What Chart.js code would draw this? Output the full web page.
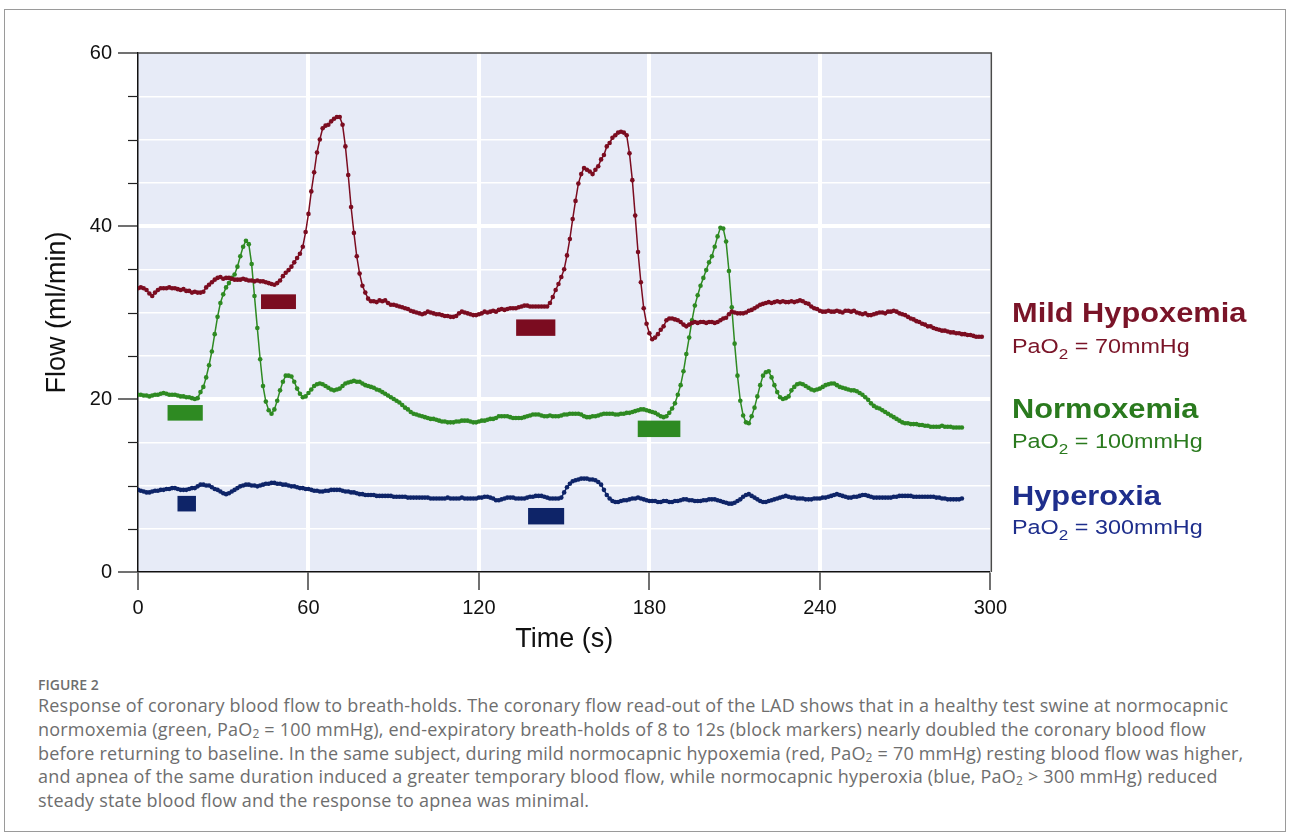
<!DOCTYPE html>
<html>
<head>
<meta charset="utf-8">
<script src="https://cdn.jsdelivr.net/npm/chart.js@4.4.1/dist/chart.umd.min.js"></script>
<style>
  body { margin: 0; background: #fff; width: 1290px; height: 837px; position: relative; overflow: hidden; font-family: "Liberation Sans", Arial, sans-serif; }
  #frame { position: absolute; left: 4px; top: 9px; width: 1282px; height: 823px; border: 1px solid #9a9a9a; box-sizing: border-box; }
  #chartBox { position: absolute; left: 0; top: 0; width: 1013px; height: 670px; }
  .lg { position: absolute; left: 1012px; white-space: nowrap; transform-origin: left top; transform: scaleX(1.14); line-height: 1; }
  .lg.head { font-weight: bold; font-size: 27px; }
  .lg.sub { font-size: 20.5px; }
  .lg sub { font-size: 15px; vertical-align: -6px; line-height: 0; }
  .red { color: #7a1428; }
  .green { color: #2a7a1e; }
  .blue { color: #1e2e8c; }
  #figLabel { position: absolute; left: 38px; top: 678px; font-family: "Open Sans", sans-serif; font-size: 14px; font-weight: 600; color: #6e6e6e; line-height: 1; }
  #caption { position: absolute; left: 38px; top: 694px; font-family: "Open Sans", sans-serif; font-size: 18px; letter-spacing: 0.2px; color: #6e6e6e; line-height: 23.8px; white-space: nowrap; }
  #caption sub { font-size: 12px; vertical-align: -2px; line-height: 0; }
</style>
</head>
<body>
<div id="frame"></div>
<div id="chartBox"><canvas id="flowChart"></canvas></div>

<div class="lg head red" style="top:300px">Mild Hypoxemia</div>
<div class="lg sub red" style="top:336px">PaO<sub>2</sub> = 70mmHg</div>
<div class="lg head green" style="top:396px">Normoxemia</div>
<div class="lg sub green" style="top:431px">PaO<sub>2</sub> = 100mmHg</div>
<div class="lg head blue" style="top:483px">Hyperoxia</div>
<div class="lg sub blue" style="top:517px">PaO<sub>2</sub> = 300mmHg</div>

<div id="figLabel">FIGURE 2</div>
<div id="caption">Response of coronary blood flow to breath-holds. The coronary flow read-out of the LAD shows that in a healthy test swine at normocapnic<br>normoxemia (green, PaO<sub>2</sub> = 100 mmHg), end-expiratory breath-holds of 8 to 12s (block markers) nearly doubled the coronary blood flow<br>before returning to baseline. In the same subject, during mild normocapnic hypoxemia (red, PaO<sub>2</sub> = 70 mmHg) resting blood flow was higher,<br>and apnea of the same duration induced a greater temporary blood flow, while normocapnic hyperoxia (blue, PaO<sub>2</sub> &gt; 300 mmHg) reduced<br>steady state blood flow and the response to apnea was minimal.</div>

<script>
// sampled once per second, t = 0, 1, 2 ...
const sampleStep = 1;

const hypoxemiaFlow = [
  32.8, 32.9, 32.8, 32.6, 32.2, 31.9, 32.3, 32.6, 32.8, 32.8, 32.8, 32.9, 32.8, 32.8, 32.7, 32.6, 32.7, 32.5, 32.5, 32.3,
  32.4, 32.3, 32.3, 32.4, 32.9, 33.2, 33.5, 33.8, 34.0, 34.1, 33.9, 34.0, 34.0, 33.9, 33.8, 33.8, 33.8, 33.9, 33.8, 33.7,
  33.7, 33.6, 33.7, 33.6, 33.6, 33.5, 33.4, 33.3, 33.2, 33.4, 33.7, 34.2, 34.6, 34.9, 35.3, 35.8, 36.3, 36.8, 37.6, 39.3,
  41.4, 44.0, 46.2, 48.5, 50.0, 51.3, 51.6, 51.7, 52.1, 52.4, 52.6, 52.6, 51.7, 49.2, 45.9, 42.2, 39.2, 36.5, 34.5, 33.1,
  32.3, 31.6, 31.3, 31.3, 31.2, 31.4, 31.3, 31.4, 31.1, 30.9, 30.9, 30.8, 30.7, 30.6, 30.5, 30.4, 30.2, 30.1, 30.0, 29.9,
  29.8, 29.9, 30.1, 30.0, 29.9, 29.8, 29.8, 29.7, 29.6, 29.6, 29.5, 29.5, 29.6, 29.9, 30.1, 30.0, 29.9, 29.8, 29.7, 29.7,
  29.8, 29.9, 30.1, 30.0, 30.1, 30.2, 30.1, 30.3, 30.4, 30.3, 30.4, 30.5, 30.5, 30.5, 30.6, 30.7, 30.8, 30.8, 30.7, 30.7,
  30.7, 30.7, 30.7, 30.7, 30.7, 31.1, 31.8, 32.6, 33.3, 34.1, 35.0, 36.6, 38.5, 40.8, 42.9, 44.9, 46.0, 46.7, 46.5, 46.3,
  46.0, 46.5, 46.9, 47.7, 48.2, 49.2, 49.6, 50.2, 50.5, 50.8, 50.9, 50.8, 50.5, 48.4, 45.3, 41.2, 37.0, 33.5, 30.5, 28.7,
  27.6, 26.9, 27.1, 27.5, 28.0, 28.4, 29.1, 29.3, 29.3, 29.2, 29.1, 28.9, 28.6, 28.4, 28.6, 28.8, 28.9, 28.8, 28.9, 28.9,
  28.8, 28.9, 28.9, 28.8, 28.9, 29.1, 29.3, 29.4, 29.8, 30.1, 30.0, 29.9, 29.9, 29.9, 30.0, 30.2, 30.3, 30.5, 30.7, 30.9,
  31.0, 31.1, 31.2, 31.1, 31.2, 31.3, 31.2, 31.3, 31.2, 31.2, 31.3, 31.2, 31.3, 31.4, 31.3, 31.1, 31.0, 30.7, 30.5, 30.4,
  30.2, 30.1, 30.1, 30.2, 30.1, 30.1, 30.2, 30.1, 30.0, 30.2, 30.2, 30.1, 30.2, 30.0, 29.9, 29.8, 29.9, 29.7, 29.7, 29.8,
  29.9, 30.0, 30.0, 29.9, 30.1, 30.1, 30.2, 30.1, 29.9, 29.8, 29.7, 29.5, 29.3, 29.2, 29.0, 28.9, 28.7, 28.6, 28.4, 28.4,
  28.2, 28.1, 28.0, 27.9, 27.9, 27.8, 27.7, 27.7, 27.6, 27.6, 27.5, 27.5, 27.4, 27.4, 27.3, 27.2, 27.2, 27.2
];

const normoxemiaFlow = [
  20.5, 20.5, 20.4, 20.4, 20.3, 20.4, 20.5, 20.5, 20.6, 20.7, 20.6, 20.5, 20.5, 20.5, 20.4, 20.3, 20.3, 20.2, 20.2, 20.1,
  20.0, 20.1, 20.8, 21.4, 22.5, 23.9, 25.5, 27.5, 29.5, 31.1, 32.1, 32.9, 33.4, 34.0, 34.4, 35.3, 36.5, 37.6, 38.3, 37.9,
  35.6, 31.9, 28.2, 24.6, 21.5, 19.7, 18.7, 18.3, 18.8, 19.8, 21.0, 22.0, 22.7, 22.7, 22.6, 22.0, 21.2, 20.6, 20.2, 20.3,
  20.7, 21.1, 21.5, 21.7, 21.8, 21.7, 21.5, 21.3, 21.1, 21.0, 21.1, 21.2, 21.5, 21.8, 21.9, 22.0, 22.1, 22.0, 22.0, 21.8,
  21.6, 21.5, 21.4, 21.3, 21.1, 21.0, 20.8, 20.6, 20.4, 20.2, 20.0, 19.8, 19.6, 19.3, 19.0, 18.8, 18.5, 18.3, 18.2, 18.1,
  18.0, 17.9, 17.8, 17.7, 17.7, 17.6, 17.5, 17.4, 17.4, 17.3, 17.3, 17.3, 17.4, 17.4, 17.5, 17.5, 17.5, 17.4, 17.3, 17.3,
  17.4, 17.5, 17.5, 17.6, 17.7, 17.7, 17.8, 18.0, 18.0, 18.0, 18.0, 17.9, 17.8, 17.8, 17.8, 17.8, 17.9, 18.0, 18.1, 18.2,
  18.2, 18.2, 18.1, 18.0, 18.0, 18.1, 18.0, 18.0, 18.0, 18.1, 18.2, 18.2, 18.3, 18.3, 18.3, 18.3, 18.2, 18.0, 17.9, 17.9,
  18.0, 18.0, 18.1, 18.2, 18.3, 18.3, 18.3, 18.3, 18.2, 18.2, 18.3, 18.3, 18.4, 18.4, 18.5, 18.6, 18.7, 18.8, 18.8, 18.7,
  18.6, 18.5, 18.4, 18.2, 18.0, 17.9, 18.0, 18.4, 18.9, 19.5, 20.5, 21.6, 23.2, 25.2, 27.1, 29.1, 30.8, 32.0, 33.1, 34.0,
  34.9, 35.8, 36.5, 37.6, 38.8, 39.8, 39.7, 38.2, 34.8, 30.6, 26.4, 22.7, 19.8, 18.1, 17.3, 17.2, 18.0, 19.0, 20.3, 21.6,
  22.7, 23.1, 23.2, 22.5, 21.6, 20.8, 20.2, 20.0, 20.1, 20.3, 21.0, 21.4, 21.7, 21.8, 21.7, 21.5, 21.3, 21.1, 21.0, 21.1,
  21.2, 21.4, 21.6, 21.7, 21.8, 21.8, 21.6, 21.4, 21.3, 21.2, 21.1, 21.0, 21.0, 20.9, 20.7, 20.5, 20.2, 19.9, 19.5, 19.2,
  19.0, 18.9, 18.7, 18.5, 18.3, 18.1, 17.9, 17.7, 17.5, 17.3, 17.2, 17.2, 17.1, 17.1, 17.1, 17.0, 17.0, 16.9, 16.9, 16.8,
  16.8, 16.8, 16.8, 16.9, 16.8, 16.8, 16.8, 16.7, 16.7, 16.7, 16.7
];

const hyperoxiaFlow = [
  9.5, 9.4, 9.3, 9.2, 9.2, 9.3, 9.4, 9.4, 9.5, 9.5, 9.6, 9.6, 9.7, 9.7, 9.6, 9.5, 9.5, 9.5, 9.6, 9.7,
  9.7, 9.9, 10.1, 10.1, 10.0, 10.0, 9.8, 9.6, 9.5, 9.3, 9.1, 9.0, 9.1, 9.3, 9.5, 9.7, 9.9, 10.0, 10.1, 10.1,
  10.0, 10.0, 9.9, 10.0, 10.1, 10.2, 10.2, 10.3, 10.3, 10.2, 10.2, 10.1, 10.1, 10.0, 9.9, 9.9, 9.8, 9.7, 9.7, 9.6,
  9.6, 9.5, 9.4, 9.4, 9.3, 9.3, 9.4, 9.4, 9.5, 9.5, 9.5, 9.5, 9.4, 9.3, 9.3, 9.2, 9.2, 9.1, 9.0, 9.0,
  8.9, 8.9, 8.9, 8.9, 8.8, 8.8, 8.8, 8.8, 8.8, 8.8, 8.7, 8.7, 8.7, 8.7, 8.7, 8.6, 8.6, 8.6, 8.6, 8.6,
  8.6, 8.6, 8.6, 8.5, 8.5, 8.5, 8.5, 8.5, 8.5, 8.6, 8.5, 8.5, 8.5, 8.5, 8.6, 8.5, 8.5, 8.5, 8.5, 8.5,
  8.6, 8.6, 8.7, 8.7, 8.6, 8.5, 8.3, 8.3, 8.4, 8.5, 8.6, 8.6, 8.6, 8.5, 8.5, 8.5, 8.5, 8.6, 8.7, 8.7,
  8.8, 8.8, 8.8, 8.7, 8.6, 8.5, 8.5, 8.5, 8.5, 8.6, 9.2, 9.8, 10.2, 10.5, 10.6, 10.7, 10.8, 10.8, 10.8, 10.7,
  10.7, 10.6, 10.4, 10.1, 9.5, 8.9, 8.5, 8.2, 8.1, 8.1, 8.2, 8.3, 8.3, 8.4, 8.5, 8.5, 8.6, 8.5, 8.4, 8.3,
  8.2, 8.2, 8.2, 8.1, 8.1, 8.2, 8.2, 8.1, 8.1, 8.2, 8.2, 8.3, 8.4, 8.4, 8.3, 8.3, 8.2, 8.2, 8.2, 8.3,
  8.3, 8.4, 8.4, 8.4, 8.3, 8.2, 8.1, 8.0, 7.9, 7.9, 8.0, 8.2, 8.4, 8.7, 8.9, 9.0, 8.8, 8.6, 8.4, 8.2,
  8.1, 8.1, 8.2, 8.3, 8.4, 8.5, 8.6, 8.7, 8.8, 8.7, 8.6, 8.6, 8.5, 8.5, 8.5, 8.4, 8.4, 8.4, 8.5, 8.5,
  8.5, 8.6, 8.6, 8.7, 8.8, 8.9, 9.0, 8.9, 8.8, 8.7, 8.6, 8.6, 8.7, 8.7, 8.8, 8.9, 8.9, 8.8, 8.7, 8.6,
  8.6, 8.6, 8.6, 8.6, 8.6, 8.6, 8.7, 8.7, 8.8, 8.8, 8.8, 8.8, 8.8, 8.7, 8.7, 8.7, 8.7, 8.7, 8.7, 8.7,
  8.7, 8.6, 8.6, 8.5, 8.5, 8.4, 8.4, 8.4, 8.4, 8.4, 8.5
];

// breath-hold block markers: [t start, t end, flow top, flow bottom]
const hypoxemiaBlocks = [[43.3, 55.6, 32.1, 30.4], [133.1, 146.9, 29.2, 27.3]];
const normoxemiaBlocks = [[10.4, 22.8, 19.3, 17.5], [175.9, 190.9, 17.5, 15.6]];
const hyperoxiaBlocks = [[13.9, 20.4, 8.8, 7.0], [137.3, 150.0, 7.4, 5.5]];

const xTicks = [0, 60, 120, 180, 240, 300];
const yLabelTicks = [0, 20, 40, 60];

const RED = '#7b0c20';
const GREEN = '#2e8a22';
const BLUE = '#0e2468';

function toPoints(values) {
    return values.map(function (v, i) {
        return { x: i * sampleStep, y: v };
    });
}

function series(label, values, color) {
    return {
        label: label,
        data: toPoints(values),
        borderColor: color,
        backgroundColor: color,
        borderWidth: 1.5,
        pointRadius: 2.3,
        pointBorderWidth: 0,
        pointBackgroundColor: color,
        tension: 0
    };
}

// plot background, frame, minor ticks and breath-hold blocks
const plotDecor = {
    id: 'plotDecor',
    beforeDraw: function (chart) {
        const a = chart.chartArea;
        const ctx = chart.ctx;
        ctx.save();
        ctx.fillStyle = '#e7ebf7';
        ctx.fillRect(a.left, a.top, a.right - a.left, a.bottom - a.top);
        ctx.restore();
    },
    afterDraw: function (chart) {
        const a = chart.chartArea;
        const ctx = chart.ctx;
        const xs = chart.scales.x;
        const ys = chart.scales.y;
        ctx.save();
        // top and right frame
        ctx.strokeStyle = '#4a4a4a';
        ctx.lineWidth = 1.5;
        ctx.beginPath();
        ctx.moveTo(a.left, a.top);
        ctx.lineTo(a.right + 1, a.top);
        ctx.lineTo(a.right + 1, a.bottom);
        ctx.stroke();
        // short minor ticks on the y axis
        ctx.strokeStyle = '#222';
        ctx.lineWidth = 1.2;
        ys.ticks.forEach(function (t) {
            if (t.value % 20 === 0) return;
            const y = Math.round(ys.getPixelForValue(t.value)) + 0.5;
            ctx.beginPath();
            ctx.moveTo(a.left - 10, y);
            ctx.lineTo(a.left, y);
            ctx.stroke();
        });
        // block markers
        [[hypoxemiaBlocks, RED], [normoxemiaBlocks, GREEN], [hyperoxiaBlocks, BLUE]].forEach(function (pair) {
            ctx.fillStyle = pair[1];
            pair[0].forEach(function (b) {
                const x0 = xs.getPixelForValue(b[0]);
                const x1 = xs.getPixelForValue(b[1]);
                const y0 = ys.getPixelForValue(b[2]);
                const y1 = ys.getPixelForValue(b[3]);
                ctx.fillRect(x0, y0, x1 - x0, y1 - y0);
            });
        });
        ctx.restore();
    }
};

const ctx = document.getElementById('flowChart').getContext('2d');

new Chart(ctx, {
    type: 'line',
    data: {
        datasets: [
            series('Mild Hypoxemia', hypoxemiaFlow, RED),
            series('Normoxemia', normoxemiaFlow, GREEN),
            series('Hyperoxia', hyperoxiaFlow, BLUE)
        ]
    },
    options: {
        responsive: true,
        maintainAspectRatio: false,
        animation: false,
        layout: { padding: { top: 53, right: 20, bottom: 0, left: 0 } },
        plugins: {
            legend: { display: false },
            tooltip: { enabled: false }
        },
        scales: {
            x: {
                type: 'linear',
                min: 0,
                max: 300,
                afterFit: function (scale) { scale.height = 98; },
                afterBuildTicks: function (scale) {
                    scale.ticks = xTicks.map(function (v) { return { value: v }; });
                },
                border: { display: true, color: '#111', width: 1.5 },
                grid: {
                    color: '#ffffff',
                    lineWidth: function (c) {
                        return (c.tick && c.tick.value > 0 && c.tick.value < 300) ? 4 : 0;
                    },
                    drawTicks: true,
                    tickLength: 18,
                    tickColor: '#111',
                    tickWidth: 1.2
                },
                ticks: {
                    color: '#111',
                    padding: 6,
                    maxRotation: 0,
                    font: { family: 'Liberation Sans', size: 20 }
                },
                title: {
                    display: true,
                    text: 'Time (s)',
                    color: '#111',
                    font: { family: 'Liberation Sans', size: 27 },
                    padding: { top: 0, bottom: 14 }
                }
            },
            y: {
                min: 0,
                max: 60,
                afterFit: function (scale) { scale.width = 138; },
                border: { display: true, color: '#111', width: 1.5 },
                grid: {
                    color: '#ffffff',
                    lineWidth: function (c) {
                        if (!c.tick || c.tick.value === 0 || c.tick.value === 60) return 0;
                        return c.tick.value % 20 === 0 ? 4 : 1.5;
                    },
                    drawTicks: true,
                    tickLength: 20,
                    tickColor: function (c) {
                        return (c.tick && c.tick.value % 20 === 0) ? '#111' : 'rgba(0,0,0,0)';
                    },
                    tickWidth: 1.2
                },
                ticks: {
                    stepSize: 5,
                    color: '#111',
                    padding: 6,
                    font: { family: 'Liberation Sans', size: 20 },
                    callback: function (v) {
                        return yLabelTicks.indexOf(v) >= 0 ? v : '';
                    }
                },
                title: {
                    display: true,
                    text: 'Flow (ml/min)',
                    color: '#111',
                    font: { family: 'Liberation Sans', size: 27 },
                    padding: { top: 41, bottom: 0 }
                }
            }
        }
    },
    plugins: [plotDecor]
});
</script>
</body>
</html>
